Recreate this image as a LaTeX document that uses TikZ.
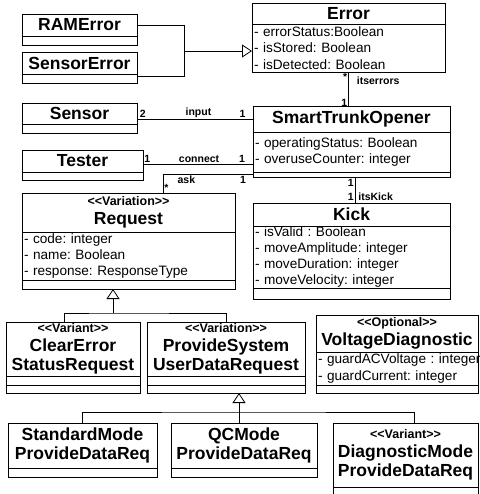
\documentclass[tikz,border=0pt]{standalone}
\usepackage{fontspec}
\setmainfont{Liberation Sans}[Ligatures=TeXOff]
\usetikzlibrary{arrows.meta}
\frenchspacing

\tikzset{
  box/.style={draw, line width=0.8pt, inner sep=0pt, outer sep=0pt, anchor=north west},
  clsname/.style={box, align=center, font=\bfseries\fontsize{17.5}{19}\selectfont},
  clsattr/.style={box, align=left, inner xsep=2pt, font=\fontsize{13.6}{16.3}\selectfont},
  mult/.style={font=\bfseries\fontsize{10.5}{12}\selectfont, inner sep=1pt},
  gen/.style={-{Triangle[open, length=10pt, width=13pt]}},
}
\newcommand{\sttype}[1]{{\fontsize{12.5}{14}\selectfont <<#1>>}}

\begin{document}
\begin{tikzpicture}[x=1pt, y=-1pt, line width=0.8pt]
  \useasboundingbox (0,0) rectangle (479,494);
  % error classes
  \node[clsname, minimum width=115, minimum height=22] (ramname) at (22,14) {RAMError};
  \node[box, minimum width=115, minimum height=9] (ramops) at (ramname.south west) {};
  \node[clsname, minimum width=115, minimum height=22] (sename) at (22,52) {SensorError};
  \node[box, minimum width=115, minimum height=9] (seops) at (sename.south west) {};
  \node[clsname, minimum width=193, minimum height=21] (errname) at (252,3) {Error};
  \node[clsattr, minimum width=193, text width=189, minimum height=48] (errattr) at (errname.south west)
    {- errorStatus:Boolean\\- isStored: Boolean\\- isDetected: Boolean};
  % sensor, tester, opener
  \node[clsname, minimum width=115, minimum height=21] (sensorname) at (22,103) {Sensor};
  \node[box, minimum width=115, minimum height=9] (sensorops) at (sensorname.south west) {};
  \node[clsname, minimum width=197, minimum height=26] (stoname) at (253,106) {SmartTrunkOpener};
  \node[clsattr, minimum width=197, text width=193, minimum height=40] (stoattr) at (stoname.south west)
    {- operatingStatus: Boolean\\- overuseCounter: integer};
  \node[box, minimum width=197, minimum height=5] (stoops) at (stoattr.south west) {};
  \node[clsname, minimum width=121, minimum height=22] (testername) at (22,150) {Tester};
  \node[box, minimum width=121, minimum height=8] (testerops) at (testername.south west) {};
  % request and kick
  \node[clsname, minimum width=213, minimum height=39] (reqname) at (22,193) {\sttype{Variation}\\Request};
  \node[clsattr, minimum width=213, text width=209, minimum height=48] (reqattr) at (reqname.south west)
    {- code: integer\\- name: Boolean\\- response: ResponseType};
  \node[box, minimum width=213, minimum height=9] (reqops) at (reqattr.south west) {};
  \node[clsname, minimum width=197, minimum height=23] (kickname) at (253,203) {Kick};
  \node[clsattr, minimum width=197, text width=193, minimum height=62] (kickattr) at (kickname.south west)
    {- isValid : Boolean\\- moveAmplitude: integer\\- moveDuration: integer\\- moveVelocity: integer};
  \node[box, minimum width=197, minimum height=11] (kickops) at (kickattr.south west) {};
  % variants
  \node[clsname, minimum width=134, minimum height=54] (clearname) at (6,322)
    {\sttype{Variant}\\ClearError\\StatusRequest};
  \node[box, minimum width=134, minimum height=9] (clearattr) at (clearname.south west) {};
  \node[box, minimum width=134, minimum height=8] (clearops) at (clearattr.south west) {};
  \node[clsname, minimum width=158, minimum height=54] (psname) at (147,322)
    {\sttype{Variation}\\ProvideSystem\\UserDataRequest};
  \node[box, minimum width=158, minimum height=9] (psattr) at (psname.south west) {};
  \node[box, minimum width=158, minimum height=8] (psops) at (psattr.south west) {};
  \node[clsname, minimum width=162, minimum height=37] (vdname) at (316,315)
    {\sttype{Optional}\\VoltageDiagnostic};
  \node[clsattr, minimum width=162, text width=158, minimum height=33] (vdattr) at (vdname.south west)
    {\mbox{- guardACVoltage : integer}\\- guardCurrent: integer};
  \node[box, minimum width=162, minimum height=8] (vdops) at (vdattr.south west) {};
  \node[clsname, minimum width=149, minimum height=45] (stdname) at (8,423) {StandardMode\\ProvideDataReq};
  \node[box, minimum width=149, minimum height=9] (stdops) at (stdname.south west) {};
  \node[clsname, minimum width=146, minimum height=45] (qcname) at (171,423) {QCMode\\ProvideDataReq};
  \node[box, minimum width=146, minimum height=9] (qcops) at (qcname.south west) {};
  \node[clsname, minimum width=145, minimum height=64] (diagname) at (333,423)
    {\sttype{Variant}\\DiagnosticMode\\ProvideDataReq};
  \node[box, minimum width=145, minimum height=10] (diagops) at (diagname.south west) {};

  % generalizations
  \coordinate (errjoin) at (184,51);
  \draw[gen] (ramname.east) -| (errjoin) -- (errjoin -| errattr.west);
  \draw ([yshift=-2pt]seops.north east) -| (errjoin);
  \coordinate (reqjoin) at (113,313);
  \draw[gen] (reqjoin) -- (reqjoin |- reqops.south);
  \draw ([xshift=-9pt]clearname.north) |- (reqjoin) -| (psname.north);
  \coordinate (psjoin) at (239,412);
  \draw[gen] (psjoin |- qcname.north) -- (psjoin |- psops.south);
  \draw (stdname.north) |- (psjoin) -| ([xshift=8.5pt]diagname.north);

  % associations
  \draw (errattr.south) -- (errattr.south |- stoname.north)
    node[mult, pos=.15, left]{*} node[mult, pos=.9, left]{1} node[mult, pos=.27, right=7pt]{itserrors};
  \draw (sensorname.east |- stoname.west) -- (stoname.west)
    node[mult, pos=.05, above]{2} node[mult, pos=.53, above]{input} node[mult, pos=.91, above]{1};
  \draw ([yshift=-3pt]testername.east) -- ([yshift=-3pt]testername.east -| stoattr.west)
    node[mult, pos=.04, above]{1} node[mult, pos=.51, above]{connect} node[mult, pos=.9, above]{1};
  \draw (stoops.west) -| ([xshift=34.5pt]reqname.north)
    node[mult, pos=.055, below]{1} node[mult, pos=.37, below]{ask} node[mult, pos=.87, right]{*};
  \draw ([xshift=3.5pt]stoops.south) -- ([xshift=3.5pt]kickname.north)
    node[mult, pos=.23, left]{1} node[mult, pos=.77, left]{1} node[mult, pos=.77, right=2pt]{itsKick};
\end{tikzpicture}
\end{document}
